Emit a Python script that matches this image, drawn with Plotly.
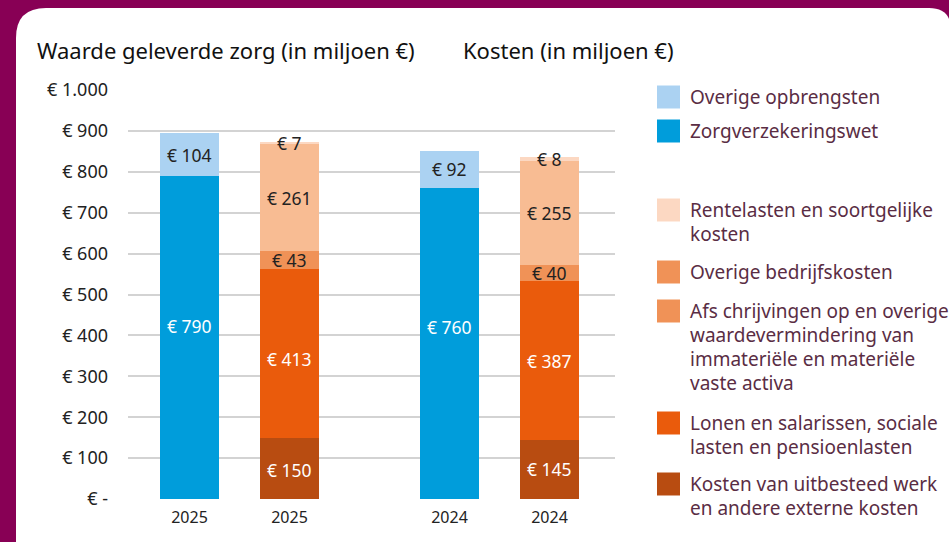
import plotly.graph_objects as go
import numpy as np

# ---- data ----
x_labels = ["2025", "2025", "2024", "2024"]
x_pos = [0, 1, 2.6, 3.6]
rev_pos = [0, 2.6]
cost_pos = [1, 3.6]

zorgverzekeringswet = [790, 760]
overige_opbrengsten = [104, 92]

kosten_uitbesteed = [150, 145]
lonen = [413, 387]
afschrijvingen = [43, 40]
overige_bedrijfskosten = [261, 255]
rentelasten = [7, 8]

y_ticks = [0, 100, 200, 300, 400, 500, 600, 700, 800, 900, 1000]
y_ticktext = ["€ -", "€ 100", "€ 200", "€ 300", "€ 400", "€ 500", "€ 600",
              "€ 700", "€ 800", "€ 900", "€ 1.000"]

FONT = "Noto Sans"
DARK = "#222222"
LEG = "#5A2D44"

# (name, values, bar colour, label colour, label pixel shifts per bar)
rev_series = [
    ("Zorgverzekeringswet", zorgverzekeringswet, "#009DDB", "white", [11, 17]),
    ("Overige opbrengsten", overige_opbrengsten, "#ABD2F2", DARK, [0, 0]),
]
cost_series = [
    ("Kosten van uitbesteed werk en andere externe kosten", kosten_uitbesteed, "#B84C11", "white", [-2, 0]),
    ("Lonen en salarissen, sociale lasten en pensioenlasten", lonen, "#EA5B0C", "white", [-6, 0]),
    ("Afschrijvingen", afschrijvingen, "#F09257", DARK, [0, 0]),
    ("Overige bedrijfskosten", overige_bedrijfskosten, "#F8BC93", DARK, [0, 0]),
    ("Rentelasten en soortgelijke kosten", rentelasten, "#FCD8C2", DARK, [0, 0]),
]

fig = go.Figure()
annotations = []

def add_stack(positions, series):
    base = np.zeros(len(positions))
    for name, vals, col, tcol, shifts in series:
        fig.add_trace(go.Bar(x=positions, y=vals, name=name, marker_color=col,
                             marker_line_width=0, width=0.59, showlegend=False,
                             hoverinfo="skip"))
        for xp, b, v, s in zip(positions, base, vals, shifts):
            annotations.append(dict(x=xp, y=b + v / 2, xref="x", yref="y",
                                    text=f"€ {v}", showarrow=False, yshift=s,
                                    font=dict(family=FONT, size=17.5, color=tcol)))
        base = base + np.array(vals)

add_stack(rev_pos, rev_series)
add_stack(cost_pos, cost_series)

# ---- geometry (pixels) ----
W, H = 949, 542
L, R, T, B = 128, 615, 90, 499

def px(xp):
    return (xp - L) / (R - L)

def py(yp):
    return (B - yp) / (B - T)

r1, r2 = 30, 22
x0, y0, x1, y1 = 16, 8, 951, 560
path = (f"M {px(x0)},{py(y1)} L {px(x0)},{py(y0 + r1)} "
        f"Q {px(x0)},{py(y0)} {px(x0 + r1)},{py(y0)} "
        f"L {px(x1 - r2)},{py(y0)} Q {px(x1)},{py(y0)} {px(x1)},{py(y0 + r2)} "
        f"L {px(x1)},{py(y1)} Z")
shapes = [dict(type="path", path=path, xref="paper", yref="paper",
               fillcolor="white", line_width=0, layer="below")]

annotations.append(dict(x=px(35), y=py(50), xref="paper", yref="paper",
                        text="Waarde geleverde zorg (in miljoen €)", showarrow=False,
                        xanchor="left", yanchor="middle",
                        font=dict(family=FONT, size=22, color="#111111")))
annotations.append(dict(x=px(461), y=py(50), xref="paper", yref="paper",
                        text="Kosten (in miljoen €)", showarrow=False,
                        xanchor="left", yanchor="middle",
                        font=dict(family=FONT, size=22, color="#111111")))

legend_items = [
    ("#ABD2F2", ["Overige opbrengsten"], 97),
    ("#009DDB", ["Zorgverzekeringswet"], 131),
    ("#FCD8C2", ["Rentelasten en soortgelijke", "kosten"], 210),
    ("#F09257", ["Overige bedrijfskosten"], 272),
    ("#F09257", ["Afs chrijvingen op en overige", "waardevermindering van",
                 "immateriële en materiële", "vaste activa"], 311),
    ("#EA5B0C", ["Lonen en salarissen, sociale", "lasten en pensioenlasten"], 423),
    ("#B84C11", ["Kosten van uitbesteed werk", "en andere externe kosten"], 484),
]
for col, lines, yc in legend_items:
    shapes.append(dict(type="rect", xref="paper", yref="paper",
                       x0=px(657), x1=px(680), y0=py(yc + 11.5), y1=py(yc - 11.5),
                       fillcolor=col, line_width=0))
    for i, ln in enumerate(lines):
        annotations.append(dict(x=px(688), y=py(yc + i * 24), xref="paper", yref="paper",
                                text=ln, showarrow=False, xanchor="left", yanchor="middle",
                                font=dict(family=FONT, size=19, color=LEG)))

fig.update_layout(
    width=W, height=H,
    barmode="stack",
    paper_bgcolor="#880055",
    plot_bgcolor="rgba(0,0,0,0)",
    margin=dict(l=L, r=W - R, t=T, b=H - B, pad=0),
    showlegend=False,
    shapes=shapes,
    annotations=annotations,
    bargap=0,
)
fig.update_xaxes(range=[(L - 189.5) / 100, (R - 189.5) / 100],
                 tickvals=x_pos, ticktext=x_labels, showgrid=False,
                 zeroline=False, showline=False, ticks="",
                 ticklabelstandoff=7,
                 tickfont=dict(family=FONT, size=16, color=DARK))
fig.update_yaxes(range=[0, 1000], tickvals=y_ticks, ticktext=y_ticktext,
                 showgrid=True, gridcolor="#D3D3D3", gridwidth=1.5,
                 zeroline=False, showline=False, ticks="",
                 ticklabelstandoff=19,
                 tickfont=dict(family=FONT, size=18, color=DARK))

fig.write_html("out.html",
               config={"displayModeBar": False},
               post_script="document.body.style.margin='0';"
                           "document.body.style.background='#880055';"
                           "document.body.style.overflow='hidden';")
